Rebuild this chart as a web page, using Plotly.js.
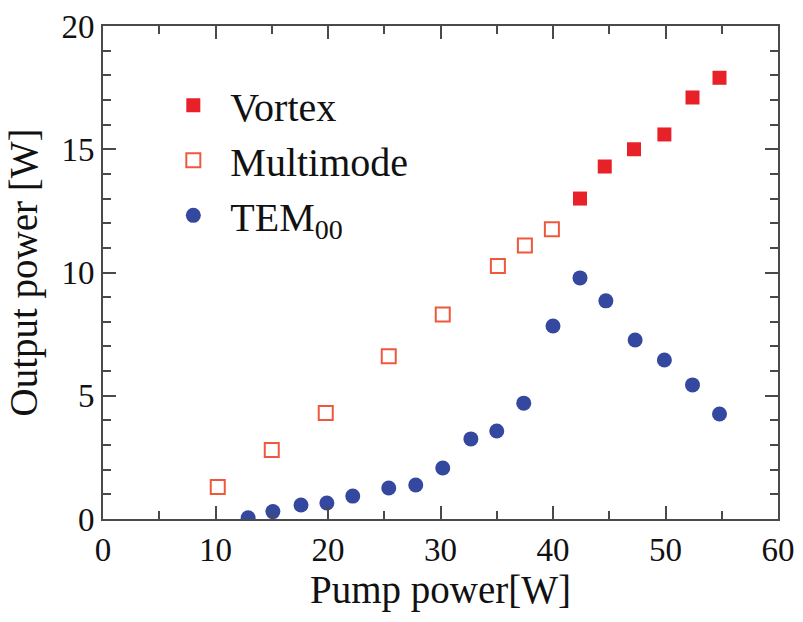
<!DOCTYPE html>
<html>
<head>
<meta charset="utf-8">
<script src="https://cdn.plot.ly/plotly-3.0.1.min.js"></script>
<style>html,body{margin:0;padding:0;background:#fff;}</style>
</head>
<body>
<div id="chart" style="width:803px;height:622px;"></div>
<script>
// Vortex output (filled red squares)
const vortexPump = [42.4, 44.6, 47.2, 49.9, 52.4, 54.8];
const vortexOut  = [13.0, 14.3, 15.0, 15.6, 17.1, 17.9];

// Multimode output (open red squares)
const multiPump = [10.2, 15.0, 19.8, 25.4, 30.2, 35.1, 37.5, 39.9];
const multiOut  = [1.3, 2.8, 4.3, 6.6, 8.3, 10.26, 11.1, 11.75];

// TEM00 output (blue circles)
const temPump = [12.9, 15.1, 17.6, 19.9, 22.2, 25.4, 27.8, 30.2, 32.7, 35.0, 37.4, 40.0, 42.4, 44.7, 47.3, 49.9, 52.4, 54.8];
const temOut  = [0.05, 0.3, 0.57, 0.65, 0.93, 1.26, 1.38, 2.07, 3.25, 3.57, 4.7, 7.83, 9.78, 8.85, 7.26, 6.45, 5.44, 4.26];

const seriesNames = ["Vortex", "Multimode", "TEM<sub>00</sub>"];
const xTitle = "Pump power[W]";
const yTitle = "Output power [W]";

const FONT = "Liberation Serif, Times New Roman, serif";

const traces = [
  {x: vortexPump, y: vortexOut, name: seriesNames[0], type: "scatter", mode: "markers",
   marker: {symbol: "square", size: 14, color: "#e82028"}},
  {x: multiPump, y: multiOut, name: seriesNames[1], type: "scatter", mode: "markers",
   marker: {symbol: "square-open", size: 14, color: "#f0583e", line: {width: 2, color: "#f0583e"}}},
  {x: temPump, y: temOut, name: seriesNames[2], type: "scatter", mode: "markers",
   marker: {symbol: "circle", size: 15, color: "#34489f"}}
];

const axisCommon = {
  showline: true, linecolor: "#4a4a4a", linewidth: 2, mirror: "allticks",
  ticks: "inside", ticklen: 13, tickwidth: 2, tickcolor: "#4a4a4a",
  showgrid: false, zeroline: false,
  tickfont: {family: FONT, size: 33, color: "#111"},
  fixedrange: true
};

const layout = {
  width: 803, height: 622,
  margin: {l: 103, r: 25, t: 26, b: 103},
  paper_bgcolor: "#fff", plot_bgcolor: "#fff",
  font: {family: FONT, color: "#111"},
  showlegend: true,
  legend: {x: 0.079, y: 0.905, xanchor: "left", yanchor: "top",
           font: {family: FONT, size: 40, color: "#111"},
           bgcolor: "rgba(0,0,0,0)", itemwidth: 64, tracegroupgap: 0},
  xaxis: Object.assign({}, axisCommon, {
    range: [0, 60], dtick: 10, tick0: 0,
    minor: {dtick: 5, ticks: "inside", ticklen: 8, tickwidth: 2, tickcolor: "#4a4a4a", showgrid: false},
    title: {text: xTitle, font: {family: FONT, size: 39, color: "#111"}, standoff: 8}
  }),
  yaxis: Object.assign({}, axisCommon, {
    range: [0, 20], dtick: 5, tick0: 0,
    minor: {dtick: 1, ticks: "inside", ticklen: 8, tickwidth: 2, tickcolor: "#4a4a4a", showgrid: false},
    title: {text: yTitle, font: {family: FONT, size: 39, color: "#111"}, standoff: 12}
  })
};

Plotly.newPlot("chart", traces, layout, {displayModeBar: false, staticPlot: true});
</script>
</body>
</html>
